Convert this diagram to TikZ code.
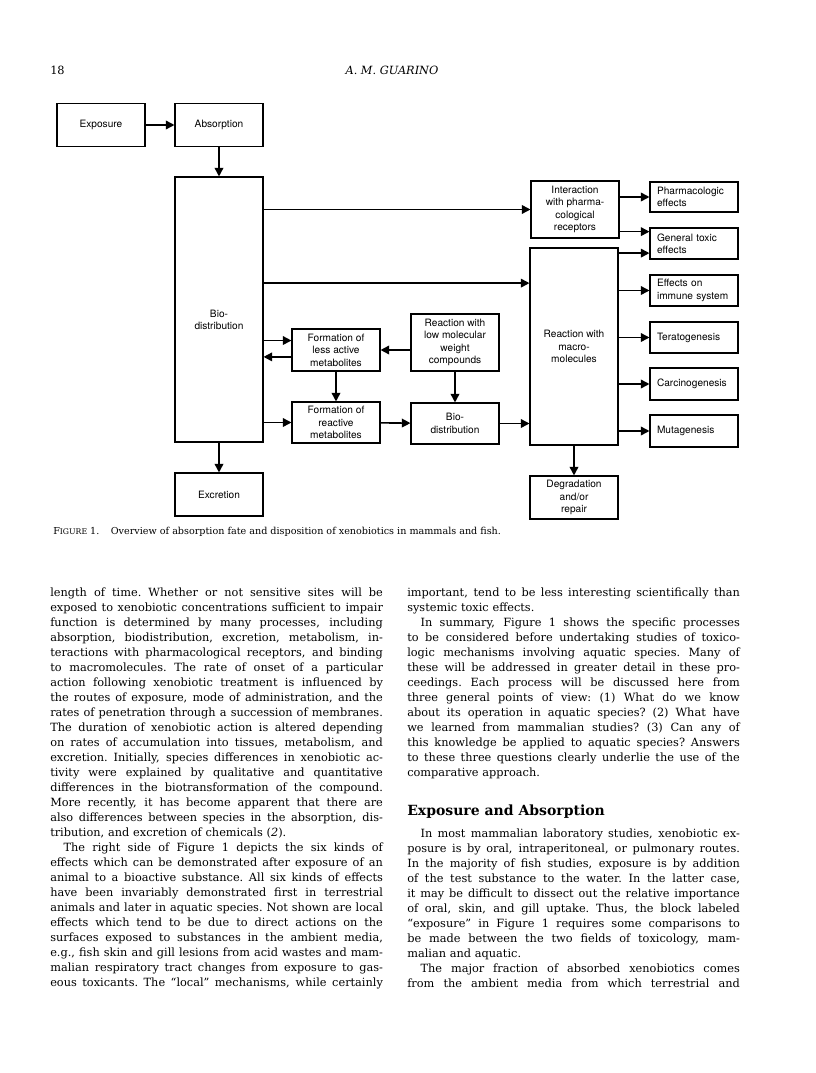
\documentclass[tikz,border=0pt]{standalone}
\usepackage{fontspec}
\setmainfont{DejaVu Serif}
\newfontfamily\dfont{TeX Gyre Heros}
\usepackage{tikz}
\usetikzlibrary{arrows.meta,calc,positioning}

\newlength\colw
\setlength\colw{249.5pt}
\newcommand\fullln[1]{\leavevmode\hbox to\colw{\spaceskip=\fontdimen2\font plus 1fil\xspaceskip=\spaceskip\relax#1}}
\newcommand\lastln[1]{\leavevmode\hbox to\colw{#1\hfil}}
\newcommand\boxfont{\dfont\fontsize{7.6}{9.3}\selectfont}
\newcommand\bodyfont{\fontsize{8.5}{11.25}\selectfont}

\begin{document}
\begin{tikzpicture}[
  x=0.75pt,y=-0.75pt,
  blk/.style={draw,line width=0.8pt,inner sep=0pt,font=\boxfont,align=center,
              minimum width=66pt},
  effect/.style={blk,align=left,text width=55.5pt,inner xsep=5.25pt,minimum height=23.25pt},
  flow/.style={-{Triangle[length=6.5pt,width=6.5pt]},line width=1.2pt},
  body/.style={anchor=base west,inner sep=0pt,text width=\colw,font=\bodyfont}
]
\fill[white] (0,0) rectangle (816,1073);
\useasboundingbox (0,0) rectangle (816,1073);

% running head
\node[anchor=base west,inner sep=0pt,font=\bodyfont] (pgno) at (50,75) {18};
\node[anchor=base,inner sep=0pt,font=\bodyfont\itshape] (runhead) at (392,75) {A. M. GUARINO};

% left part of the scheme
\node[blk,minimum height=32.25pt] (expo) at (101,125) {Exposure};
\node[blk,minimum height=32.25pt] (absorb) at (219,125) {Absorption};
\node[blk,minimum height=198.75pt] (bio) at (219,309.5) {};
\node[font=\boxfont,align=center] (biotxt) at (219,320) {Bio-\\distribution};
\node[blk,minimum height=32.25pt] (excr) at (219,494.5) {Excretion};

% metabolism
\node[blk,minimum height=31.5pt] (lessact) at (336,350) {Formation of\\less active\\metabolites};
\node[blk,minimum height=42.75pt] (lowmol) at (455,342.5) {Reaction with\\low molecular\\weight\\compounds};
\node[blk,minimum height=30.75pt] (reactv) at (336,422.5) {Formation of\\reactive\\metabolites};
\node[blk,minimum height=30.75pt] (biosm) at (455,423.5) {Bio-\\distribution};

% targets
\node[blk,minimum height=42.75pt] (inter) at (575,209.5) {Interaction\\with pharma-\\cological\\receptors};
\node[blk,minimum height=147.75pt] (macro) at (574,346.5) {Reaction with\\macro-\\molecules};
\node[blk,minimum height=32.25pt] (degr) at (574,497.5) {Degradation\\and/or\\repair};

% effects
\node[effect,minimum height=22.5pt] (pharm) at (694,197) {Pharmacologic\\effects};
\node[effect] (gtox) at (694,243.5) {General toxic\\effects};
\node[effect] (immune) at (694,290.5) {Effects on\\immune system};
\node[effect] (terat) at (694,337.5) {Teratogenesis};
\node[effect,minimum height=24pt] (carc) at (694,384) {Carcinogenesis};
\node[effect,minimum height=24pt] (muta) at (694,431) {Mutagenesis};

\coordinate (macin) at ($(macro.north west)!.18!(macro.south west)$);
\coordinate (gtin1) at ($(gtox.north west)!.13!(gtox.south west)$);
\coordinate (gtin2) at ($(gtox.north west)!.8!(gtox.south west)$);
\coordinate (lain) at ($(lessact.north west)!.28!(lessact.south west)$);
\coordinate (laout) at ($(lessact.north west)!.66!(lessact.south west)$);

\draw[flow] (expo) -- (absorb);
\draw[flow] (absorb) -- (bio);
\draw[flow] (bio.east |- inter.west) -- (inter.west);
\draw[flow] (bio.east |- macin) -- (macin);
\draw[flow] (inter.east |- pharm.west) -- (pharm.west);
\draw[flow] (inter.east |- gtin1) -- (gtin1);
\draw[flow] (macro.east |- gtin2) -- (gtin2);
\foreach \e in {immune,terat,carc,muta}
  \draw[flow] (macro.east |- \e.west) -- (\e.west);
\draw[flow] (macro) -- (degr);
\draw[flow] (bio.east |- lain) -- (lain);
\draw[flow] (laout) -- (bio.east |- laout);
\draw[flow] (lowmol.west |- lessact.east) -- (lessact.east);
\draw[flow] (lessact) -- (reactv);
\draw[flow] (lowmol) -- (biosm);
\draw[flow] (bio.east |- reactv.west) -- (reactv.west);
\draw[flow] (reactv) -- (biosm);
\draw[flow] (biosm.east) -- (biosm.east -| macro.west);
\draw[flow] (bio) -- (excr);

% caption
\node[anchor=base west,inner sep=0pt] (cap) at (53,534)
  {\fontsize{7.2}{8}\selectfont F{\fontsize{5.8}{6}\selectfont IGURE} 1.\hspace{1.2em}Overview of absorption fate and disposition of xenobiotics in mammals and fish.};

% text columns
\node[body] (lcol) at (50,596) {%
\fullln{length of time. Whether or not sensitive sites will be}\\
\fullln{exposed to xenobiotic concentrations sufficient to impair}\\
\fullln{function is determined by many processes, including}\\
\fullln{absorption, biodistribution, excretion, metabolism, in-}\\
\fullln{teractions with pharmacological receptors, and binding}\\
\fullln{to macromolecules. The rate of onset of a particular}\\
\fullln{action following xenobiotic treatment is influenced by}\\
\fullln{the routes of exposure, mode of administration, and the}\\
\fullln{rates of penetration through a succession of membranes.}\\
\fullln{The duration of xenobiotic action is altered depending}\\
\fullln{on rates of accumulation into tissues, metabolism, and}\\
\fullln{excretion. Initially, species differences in xenobiotic ac-}\\
\fullln{tivity were explained by qualitative and quantitative}\\
\fullln{differences in the biotransformation of the compound.}\\
\fullln{More recently, it has become apparent that there are}\\
\fullln{also differences between species in the absorption, dis-}\\
\lastln{tribution, and excretion of chemicals (\textit{2}).}\\
\fullln{\hspace*{10pt}The right side of Figure 1 depicts the six kinds of}\\
\fullln{effects which can be demonstrated after exposure of an}\\
\fullln{animal to a bioactive substance. All six kinds of effects}\\
\fullln{have been invariably demonstrated first in terrestrial}\\
\fullln{animals and later in aquatic species. Not shown are local}\\
\fullln{effects which tend to be due to direct actions on the}\\
\fullln{surfaces exposed to substances in the ambient media,}\\
\fullln{e.g., fish skin and gill lesions from acid wastes and mam-}\\
\fullln{malian respiratory tract changes from exposure to gas-}\\
\fullln{eous toxicants. The ``local'' mechanisms, while certainly}};

\node[body] (rcol) at (407,596) {%
\fullln{important, tend to be less interesting scientifically than}\\
\lastln{systemic toxic effects.}\\
\fullln{\hspace*{10pt}In summary, Figure 1 shows the specific processes}\\
\fullln{to be considered before undertaking studies of toxico-}\\
\fullln{logic mechanisms involving aquatic species. Many of}\\
\fullln{these will be addressed in greater detail in these pro-}\\
\fullln{ceedings. Each process will be discussed here from}\\
\fullln{three general points of view: (1) What do we know}\\
\fullln{about its operation in aquatic species? (2) What have}\\
\fullln{we learned from mammalian studies? (3) Can any of}\\
\fullln{this knowledge be applied to aquatic species? Answers}\\
\fullln{to these three questions clearly underlie the use of the}\\
\lastln{comparative approach.}};

\node[anchor=base west,inner sep=0pt,font=\fontsize{10.5}{12}\selectfont\bfseries] (head) at (407,815)
  {Exposure and Absorption};

\node[body] (rcol2) at (407,837) {%
\fullln{\hspace*{10pt}In most mammalian laboratory studies, xenobiotic ex-}\\
\fullln{posure is by oral, intraperitoneal, or pulmonary routes.}\\
\fullln{In the majority of fish studies, exposure is by addition}\\
\fullln{of the test substance to the water. In the latter case,}\\
\fullln{it may be difficult to dissect out the relative importance}\\
\fullln{of oral, skin, and gill uptake. Thus, the block labeled}\\
\fullln{``exposure'' in Figure 1 requires some comparisons to}\\
\fullln{be made between the two fields of toxicology, mam-}\\
\lastln{malian and aquatic.}\\
\fullln{\hspace*{10pt}The major fraction of absorbed xenobiotics comes}\\
\fullln{from the ambient media from which terrestrial and}};
\end{tikzpicture}
\end{document}
